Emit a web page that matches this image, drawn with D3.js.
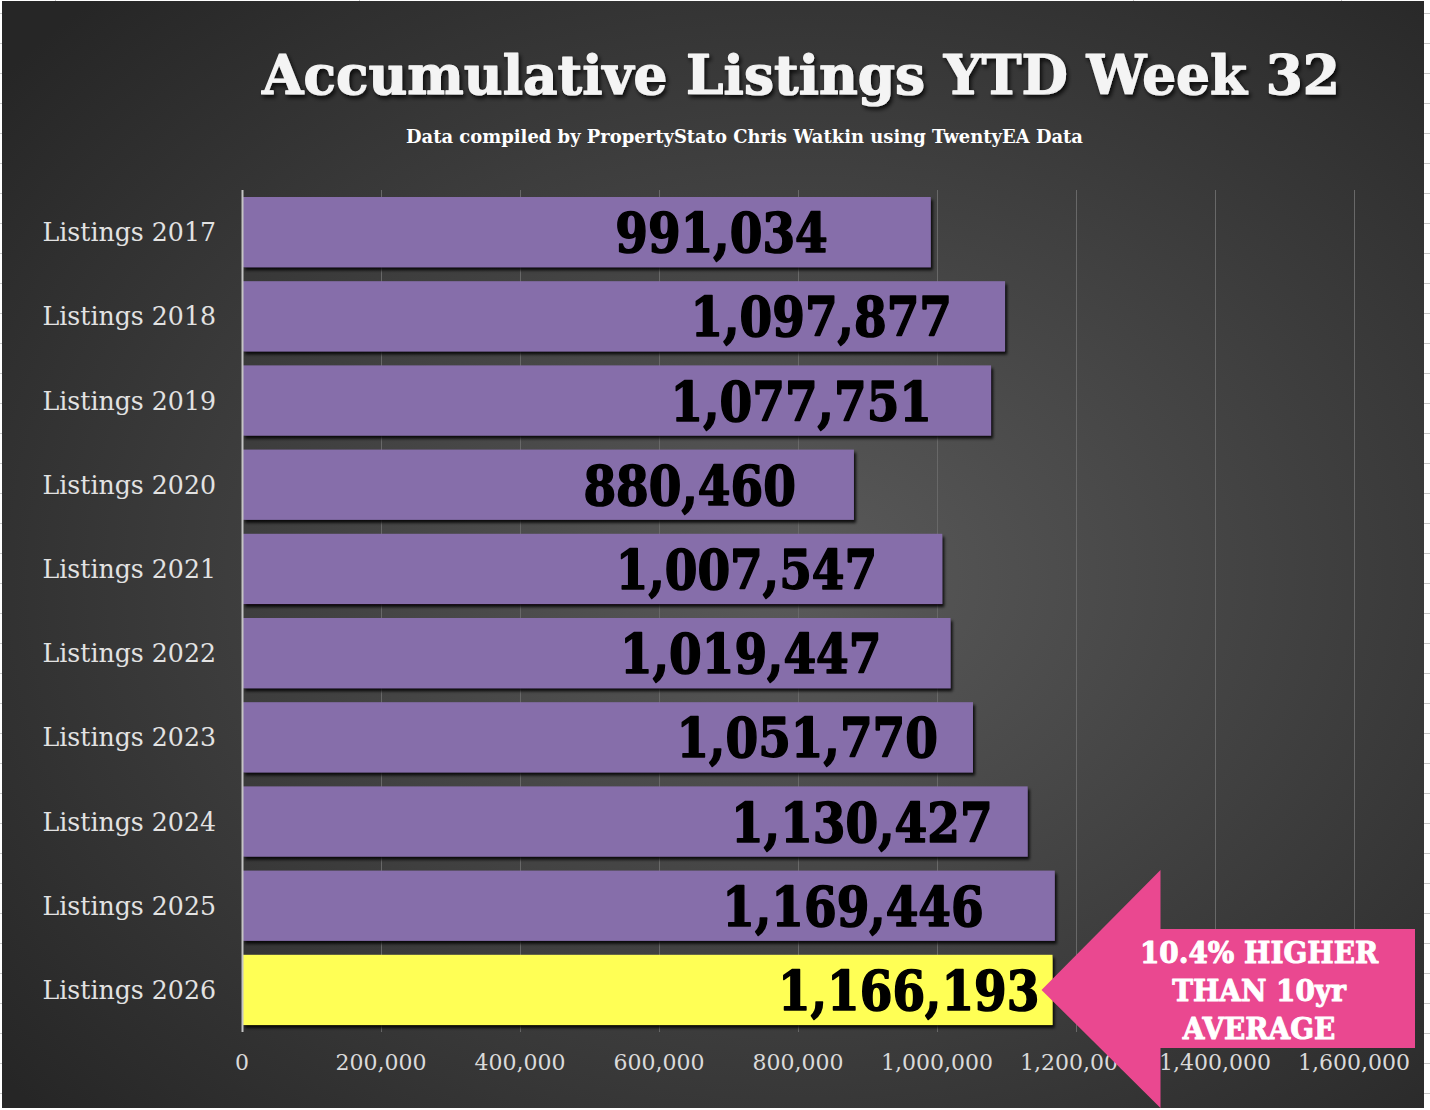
<!DOCTYPE html>
<html>
<head>
<meta charset="utf-8">
<script src="https://cdn.jsdelivr.net/npm/d3@7"></script>
<style>
  html, body { margin: 0; padding: 0; background: #ffffff; }
  svg { display: block; }
</style>
</head>
<body>
<svg id="chart"></svg>
<script>
const categories = ["Listings 2017", "Listings 2018", "Listings 2019", "Listings 2020", "Listings 2021",
                    "Listings 2022", "Listings 2023", "Listings 2024", "Listings 2025", "Listings 2026"];
const values = [991034, 1097877, 1077751, 880460, 1007547, 1019447, 1051770, 1130427, 1169446, 1166193];
const highlightYear = "Listings 2026";
const tickValues = [0, 200000, 400000, 600000, 800000, 1000000, 1200000, 1400000, 1600000];
const titleText = "Accumulative Listings YTD Week 32";
const subtitleText = "Data compiled by PropertyStato Chris Watkin using TwentyEA Data";
const calloutLines = ["10.4% HIGHER", "THAN 10yr", "AVERAGE"];

const data = categories.map((c, i) => ({ name: c, value: values[i] }));

const width = 1430;
const height = 1110;
const margin = { top: 190, right: 76, bottom: 78, left: 242 };
const serif = "'DejaVu Serif', serif";

// hand placed label offsets from bar end, as in the original sheet
const labelNudge = [-103, -53, -59, -58, -65, -69, -35, -35, -71, -13];

const svg = d3.select("#chart")
    .attr("width", width)
    .attr("height", height);

const defs = svg.append("defs");

const bg = defs.append("radialGradient")
    .attr("id", "bg")
    .attr("cx", "56%").attr("cy", "52%").attr("r", "72%");
bg.append("stop").attr("offset", "0%").attr("stop-color", "#5a5a5a");
bg.append("stop").attr("offset", "100%").attr("stop-color", "#262626");

defs.append("filter").attr("id", "barShadow")
    .attr("x", "-5%").attr("y", "-20%").attr("width", "110%").attr("height", "150%")
  .append("feDropShadow")
    .attr("dx", 2).attr("dy", 3).attr("stdDeviation", 1.8)
    .attr("flood-color", "#000").attr("flood-opacity", 0.85);

defs.append("filter").attr("id", "textShadow")
    .attr("x", "-5%").attr("y", "-30%").attr("width", "110%").attr("height", "170%")
  .append("feDropShadow")
    .attr("dx", 2).attr("dy", 3).attr("stdDeviation", 2)
    .attr("flood-color", "#000").attr("flood-opacity", 0.8);

// spreadsheet cell edges peeking around the chart
const edge = svg.append("g").attr("stroke", "#c8c8c8").attr("stroke-width", 1);
d3.range(13, height, 30).forEach(y => {
    edge.append("line").attr("x1", 1424).attr("x2", width).attr("y1", y + 0.5).attr("y2", y + 0.5);
    edge.append("line").attr("x1", 0).attr("x2", 2).attr("y1", y + 0.5).attr("y2", y + 0.5);
});
[55, 359, 1133, 1341].forEach(x => {
    edge.append("line").attr("x1", x + 0.5).attr("x2", x + 0.5).attr("y1", 0).attr("y2", 1);
});

svg.append("rect")
    .attr("x", 2).attr("y", 1)
    .attr("width", 1422).attr("height", 1107)
    .attr("fill", "url(#bg)");

const xScale = d3.scaleLinear()
    .domain([0, 1600000])
    .range([margin.left, width - margin.right]);

const yScale = d3.scaleBand()
    .domain(categories)
    .range([margin.top, height - margin.bottom])
    .paddingInner(0.166)
    .paddingOuter(0.083);

// shrink a text horizontally to a share of its natural width
function condense(sel, factor) {
    sel.each(function () {
        const w = this.getComputedTextLength();
        d3.select(this).attr("textLength", w * factor).attr("lengthAdjust", "spacingAndGlyphs");
    });
}

// gridlines
svg.append("g")
    .selectAll("line")
    .data(tickValues.slice(1))
    .enter()
    .append("line")
    .attr("x1", d => Math.round(xScale(d)) + 0.5)
    .attr("x2", d => Math.round(xScale(d)) + 0.5)
    .attr("y1", margin.top)
    .attr("y2", height - margin.bottom)
    .attr("stroke", "#686868")
    .attr("stroke-width", 1);

// bars
svg.append("g")
    .selectAll("rect")
    .data(data)
    .enter()
    .append("rect")
    .attr("x", xScale(0) + 1)
    .attr("y", d => yScale(d.name))
    .attr("width", d => xScale(d.value) - xScale(0) - 1)
    .attr("height", yScale.bandwidth())
    .attr("fill", d => d.name === highlightYear ? "#ffff55" : "#866eaa")
    .attr("filter", "url(#barShadow)");

// axis line
svg.append("line")
    .attr("x1", xScale(0) + 0.5).attr("x2", xScale(0) + 0.5)
    .attr("y1", margin.top).attr("y2", height - margin.bottom)
    .attr("stroke", "#c4c4c4").attr("stroke-width", 2);

// value labels
svg.append("g")
    .selectAll("text")
    .data(data)
    .enter()
    .append("text")
    .attr("x", (d, i) => xScale(d.value) + labelNudge[i])
    .attr("y", d => yScale(d.name) + yScale.bandwidth() / 2 + 20)
    .attr("text-anchor", "end")
    .attr("font-family", serif)
    .attr("font-weight", "bold")
    .attr("font-size", 54)
    .attr("fill", "#000")
    .attr("stroke", "#000")
    .attr("stroke-width", 1.6)
    .attr("stroke-linejoin", "round")
    .text(d => d3.format(",")(d.value))
    .call(condense, 0.87);

// category labels
svg.append("g")
    .selectAll("text")
    .data(categories)
    .enter()
    .append("text")
    .attr("x", 216)
    .attr("y", d => yScale(d) + yScale.bandwidth() / 2 + 9)
    .attr("text-anchor", "end")
    .attr("font-family", serif)
    .attr("font-size", 26)
    .attr("fill", "#e2e2e2")
    .text(d => d)
    .call(condense, 0.97);

// x tick labels
svg.append("g")
    .selectAll("text")
    .data(tickValues)
    .enter()
    .append("text")
    .attr("x", d => xScale(d))
    .attr("y", 1070)
    .attr("text-anchor", "middle")
    .attr("font-family", serif)
    .attr("font-size", 22)
    .attr("fill", "#dadada")
    .text(d => d3.format(",")(d));

// title
svg.append("text")
    .attr("x", 262)
    .attr("y", 94)
    .attr("font-family", serif)
    .attr("font-weight", "bold")
    .attr("font-size", 55)
    .attr("fill", "#f4f4f4")
    .attr("stroke", "#f4f4f4")
    .attr("stroke-width", 1.2)
    .attr("stroke-linejoin", "round")
    .attr("textLength", 1078)
    .attr("lengthAdjust", "spacingAndGlyphs")
    .attr("filter", "url(#textShadow)")
    .text(titleText);

svg.append("text")
    .attr("x", 406)
    .attr("y", 143)
    .attr("font-family", serif)
    .attr("font-weight", "bold")
    .attr("font-size", 19)
    .attr("fill", "#ffffff")
    .attr("textLength", 677)
    .attr("lengthAdjust", "spacingAndGlyphs")
    .text(subtitleText);

// callout arrow pointing at the current year
const last = data[data.length - 1];
const cy = yScale(last.name) + yScale.bandwidth() / 2;
const tipX = xScale(last.value) - 11;
const neckX = tipX + 119;
const arrow = [
    [tipX, cy],
    [neckX, cy - 120],
    [neckX, cy - 61],
    [1415, cy - 61],
    [1415, cy + 58],
    [neckX, cy + 58],
    [neckX, cy + 118]
];
svg.append("path")
    .attr("d", d3.line()(arrow) + "Z")
    .attr("fill", "#ea4890");

svg.append("g")
    .selectAll("text")
    .data(calloutLines)
    .enter()
    .append("text")
    .attr("x", 1259)
    .attr("y", (d, i) => cy - 27 + i * 38)
    .attr("text-anchor", "middle")
    .attr("font-family", serif)
    .attr("font-weight", "bold")
    .attr("font-size", 30)
    .attr("fill", "#ffffff")
    .attr("stroke", "#ffffff")
    .attr("stroke-width", 1)
    .attr("stroke-linejoin", "round")
    .text(d => d)
    .call(condense, 0.93);
</script>
</body>
</html>
